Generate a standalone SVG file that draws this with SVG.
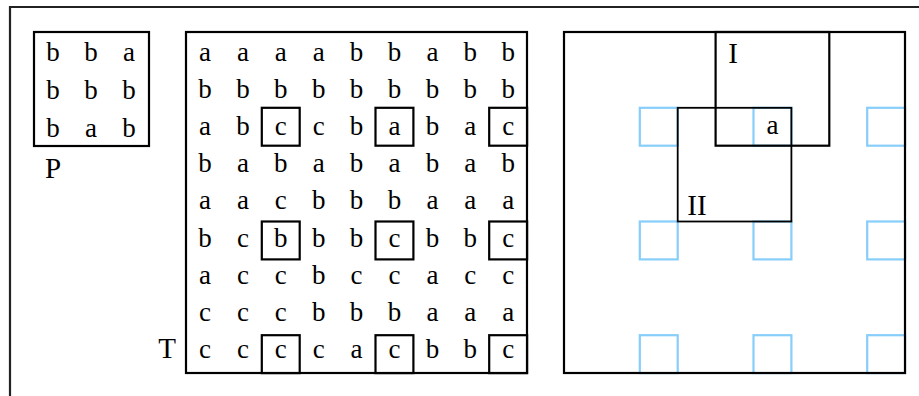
<svg xmlns="http://www.w3.org/2000/svg" width="919" height="396" viewBox="0 0 919 396">
<style>
.frame{fill:none;stroke:#222;stroke-width:2.2}
.box{fill:none;stroke:#000;stroke-width:2.2}
.thin{fill:none;stroke:#000;stroke-width:1.8}
.blue{fill:none;stroke:#87CEFA;stroke-width:2.2}
text{font-family:"Liberation Serif","DejaVu Serif",serif;font-size:27px;fill:#000;text-anchor:middle}
text.lbl{font-size:29px}
</style>
<rect width="919" height="396" fill="#fff"/>
<path class="frame" d="M10,396 V7 H919"/>

<g id="P">
<rect class="box" x="34" y="32" width="115" height="114"/>
<text x="53" y="61">b</text><text x="91" y="61">b</text><text x="129" y="61">a</text>
<text x="53" y="99">b</text><text x="91" y="99">b</text><text x="129" y="99">b</text>
<text x="53" y="137">b</text><text x="91" y="137">a</text><text x="129" y="137">b</text>
<text class="lbl" x="53" y="178">P</text>
</g>

<g id="T">
<rect class="box" x="186" y="32" width="341" height="341"/>
<rect class="box" x="261.8" y="107.8" width="37.9" height="37.9"/>
<rect class="box" x="375.5" y="107.8" width="37.9" height="37.9"/>
<rect class="box" x="489.2" y="107.8" width="37.9" height="37.9"/>
<rect class="box" x="261.8" y="221.5" width="37.9" height="37.9"/>
<rect class="box" x="375.5" y="221.5" width="37.9" height="37.9"/>
<rect class="box" x="489.2" y="221.5" width="37.9" height="37.9"/>
<rect class="box" x="261.8" y="335.2" width="37.9" height="37.9"/>
<rect class="box" x="375.5" y="335.2" width="37.9" height="37.9"/>
<rect class="box" x="489.2" y="335.2" width="37.9" height="37.9"/>
<g>
<text x="205" y="60.7">a</text><text x="242.9" y="60.7">a</text><text x="280.8" y="60.7">a</text><text x="318.7" y="60.7">a</text><text x="356.6" y="60.7">b</text><text x="394.5" y="60.7">b</text><text x="432.4" y="60.7">a</text><text x="470.3" y="60.7">b</text><text x="508.2" y="60.7">b</text>
<text x="205" y="97.9">b</text><text x="242.9" y="97.9">b</text><text x="280.8" y="97.9">b</text><text x="318.7" y="97.9">b</text><text x="356.6" y="97.9">b</text><text x="394.5" y="97.9">b</text><text x="432.4" y="97.9">b</text><text x="470.3" y="97.9">b</text><text x="508.2" y="97.9">b</text>
<text x="205" y="135">a</text><text x="242.9" y="135">b</text><text x="280.8" y="135">c</text><text x="318.7" y="135">c</text><text x="356.6" y="135">b</text><text x="394.5" y="135">a</text><text x="432.4" y="135">b</text><text x="470.3" y="135">a</text><text x="508.2" y="135">c</text>
<text x="205" y="172.2">b</text><text x="242.9" y="172.2">a</text><text x="280.8" y="172.2">b</text><text x="318.7" y="172.2">a</text><text x="356.6" y="172.2">b</text><text x="394.5" y="172.2">a</text><text x="432.4" y="172.2">b</text><text x="470.3" y="172.2">a</text><text x="508.2" y="172.2">b</text>
<text x="205" y="209.3">a</text><text x="242.9" y="209.3">a</text><text x="280.8" y="209.3">c</text><text x="318.7" y="209.3">b</text><text x="356.6" y="209.3">b</text><text x="394.5" y="209.3">b</text><text x="432.4" y="209.3">a</text><text x="470.3" y="209.3">a</text><text x="508.2" y="209.3">a</text>
<text x="205" y="247">b</text><text x="242.9" y="247">c</text><text x="280.8" y="247">b</text><text x="318.7" y="247">b</text><text x="356.6" y="247">b</text><text x="394.5" y="247">c</text><text x="432.4" y="247">b</text><text x="470.3" y="247">b</text><text x="508.2" y="247">c</text>
<text x="205" y="283.6">a</text><text x="242.9" y="283.6">c</text><text x="280.8" y="283.6">c</text><text x="318.7" y="283.6">b</text><text x="356.6" y="283.6">c</text><text x="394.5" y="283.6">c</text><text x="432.4" y="283.6">a</text><text x="470.3" y="283.6">c</text><text x="508.2" y="283.6">c</text>
<text x="205" y="320.8">c</text><text x="242.9" y="320.8">c</text><text x="280.8" y="320.8">c</text><text x="318.7" y="320.8">b</text><text x="356.6" y="320.8">b</text><text x="394.5" y="320.8">b</text><text x="432.4" y="320.8">a</text><text x="470.3" y="320.8">a</text><text x="508.2" y="320.8">a</text>
<text x="205" y="357.5">c</text><text x="242.9" y="357.5">c</text><text x="280.8" y="357.5">c</text><text x="318.7" y="357.5">c</text><text x="356.6" y="357.5">a</text><text x="394.5" y="357.5">c</text><text x="432.4" y="357.5">b</text><text x="470.3" y="357.5">b</text><text x="508.2" y="357.5">c</text>
</g>
<text class="lbl" x="167" y="358">T</text>
</g>

<g id="grid">
<g id="blue-cells">
<rect class="blue" x="639.8" y="107.8" width="37.9" height="37.9"/>
<rect class="blue" x="753.5" y="107.8" width="37.9" height="37.9"/>
<rect class="blue" x="867.2" y="107.8" width="37.9" height="37.9"/>
<rect class="blue" x="639.8" y="221.5" width="37.9" height="37.9"/>
<rect class="blue" x="753.5" y="221.5" width="37.9" height="37.9"/>
<rect class="blue" x="867.2" y="221.5" width="37.9" height="37.9"/>
<rect class="blue" x="639.8" y="335.2" width="37.9" height="37.9"/>
<rect class="blue" x="753.5" y="335.2" width="37.9" height="37.9"/>
<rect class="blue" x="867.2" y="335.2" width="37.9" height="37.9"/>
</g>
<rect class="box" x="564" y="32" width="341" height="341"/>
<g id="window-II">
<rect class="thin" x="677.7" y="107.8" width="113.7" height="113.7"/>
<text class="lbl" x="697" y="215">II</text>
</g>
<g id="window-I">
<rect class="box" x="715.6" y="32" width="113.7" height="113.7"/>
<text class="lbl" x="733" y="63">I</text>
</g>
<text x="772.5" y="134">a</text>
</g>
</svg>
